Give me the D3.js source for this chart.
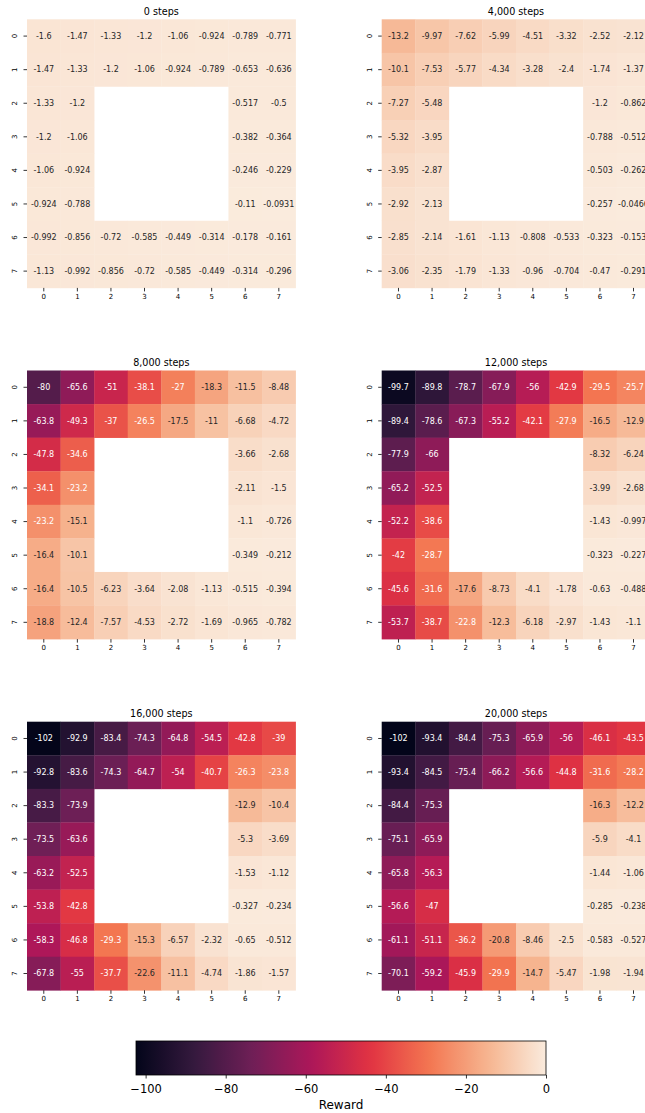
<!DOCTYPE html>
<html><head><meta charset="utf-8">
<script src="https://cdn.jsdelivr.net/npm/d3@7"></script>
<style>
html,body{margin:0;padding:0;background:#fff;}
svg{display:block;font-family:"DejaVu Sans",sans-serif;}
</style></head>
<body><svg id="chart" width="645" height="1113"></svg>
<script>
const N = null;
const titles = ["0 steps", "4,000 steps", "8,000 steps", "12,000 steps", "16,000 steps", "20,000 steps"];
const rowLabels = [0,1,2,3,4,5,6,7];
const colLabels = [0,1,2,3,4,5,6,7];

const steps0 = [
  [-1.6, -1.47, -1.33, -1.2, -1.06, -0.924, -0.789, -0.771],
  [-1.47, -1.33, -1.2, -1.06, -0.924, -0.789, -0.653, -0.636],
  [-1.33, -1.2, N, N, N, N, -0.517, -0.5],
  [-1.2, -1.06, N, N, N, N, -0.382, -0.364],
  [-1.06, -0.924, N, N, N, N, -0.246, -0.229],
  [-0.924, -0.788, N, N, N, N, -0.11, -0.0931],
  [-0.992, -0.856, -0.72, -0.585, -0.449, -0.314, -0.178, -0.161],
  [-1.13, -0.992, -0.856, -0.72, -0.585, -0.449, -0.314, -0.296]
];
const steps4000 = [
  [-13.2, -9.97, -7.62, -5.99, -4.51, -3.32, -2.52, -2.12],
  [-10.1, -7.53, -5.77, -4.34, -3.28, -2.4, -1.74, -1.37],
  [-7.27, -5.48, N, N, N, N, -1.2, -0.862],
  [-5.32, -3.95, N, N, N, N, -0.788, -0.512],
  [-3.95, -2.87, N, N, N, N, -0.503, -0.262],
  [-2.92, -2.13, N, N, N, N, -0.257, -0.0466],
  [-2.85, -2.14, -1.61, -1.13, -0.808, -0.533, -0.323, -0.153],
  [-3.06, -2.35, -1.79, -1.33, -0.96, -0.704, -0.47, -0.291]
];
const steps8000 = [
  [-80, -65.6, -51, -38.1, -27, -18.3, -11.5, -8.48],
  [-63.8, -49.3, -37, -26.5, -17.5, -11, -6.68, -4.72],
  [-47.8, -34.6, N, N, N, N, -3.66, -2.68],
  [-34.1, -23.2, N, N, N, N, -2.11, -1.5],
  [-23.2, -15.1, N, N, N, N, -1.1, -0.726],
  [-16.4, -10.1, N, N, N, N, -0.349, -0.212],
  [-16.4, -10.5, -6.23, -3.64, -2.08, -1.13, -0.515, -0.394],
  [-18.8, -12.4, -7.57, -4.53, -2.72, -1.69, -0.965, -0.782]
];
const steps12000 = [
  [-99.7, -89.8, -78.7, -67.9, -56, -42.9, -29.5, -25.7],
  [-89.4, -78.6, -67.3, -55.2, -42.1, -27.9, -16.5, -12.9],
  [-77.9, -66, N, N, N, N, -8.32, -6.24],
  [-65.2, -52.5, N, N, N, N, -3.99, -2.68],
  [-52.2, -38.6, N, N, N, N, -1.43, -0.997],
  [-42, -28.7, N, N, N, N, -0.323, -0.227],
  [-45.6, -31.6, -17.6, -8.73, -4.1, -1.78, -0.63, -0.488],
  [-53.7, -38.7, -22.8, -12.3, -6.18, -2.97, -1.43, -1.1]
];
const steps16000 = [
  [-102.2, -92.9, -83.4, -74.3, -64.8, -54.5, -42.8, -39],
  [-92.8, -83.6, -74.3, -64.7, -54, -40.7, -26.3, -23.8],
  [-83.3, -73.9, N, N, N, N, -12.9, -10.4],
  [-73.5, -63.6, N, N, N, N, -5.3, -3.69],
  [-63.2, -52.5, N, N, N, N, -1.53, -1.12],
  [-53.8, -42.8, N, N, N, N, -0.327, -0.234],
  [-58.3, -46.8, -29.3, -15.3, -6.57, -2.32, -0.65, -0.512],
  [-67.8, -55, -37.7, -22.6, -11.1, -4.74, -1.86, -1.57]
];
const steps20000 = [
  [-102.4, -93.4, -84.4, -75.3, -65.9, -56, -46.1, -43.5],
  [-93.4, -84.5, -75.4, -66.2, -56.6, -44.8, -31.6, -28.2],
  [-84.4, -75.3, N, N, N, N, -16.3, -12.2],
  [-75.1, -65.9, N, N, N, N, -5.9, -4.1],
  [-65.8, -56.3, N, N, N, N, -1.44, -1.06],
  [-56.6, -47, N, N, N, N, -0.285, -0.238],
  [-61.1, -51.1, -36.2, -20.8, -8.46, -2.5, -0.583, -0.527],
  [-70.1, -59.2, -45.9, -29.9, -14.7, -5.47, -1.98, -1.94]
];
const colorbarTicks = [-100, -80, -60, -40, -20, 0];
const colorbarLabel = "Reward";

const panels = [steps0, steps4000, steps8000, steps12000, steps16000, steps20000];

// rocket colormap (seaborn) control points
const rocketStops = ["#03051a", "#35193e", "#701f57", "#ad1759", "#e13342", "#f37651", "#f6b48f", "#faebdd"];
const rocket = d3.interpolateRgbBasis ? d3.piecewise(d3.interpolateRgb, rocketStops) : null;

const allVals = panels.flat(2).filter(v => v !== null);
const vmin = d3.min(allVals), vmax = 0;
const color = d3.scaleSequential(rocket).domain([vmin, vmax]);

function lum(c) {
  const rgb = d3.rgb(c);
  const f = v => { v /= 255; return v <= 0.03928 ? v / 12.92 : Math.pow((v + 0.055) / 1.055, 2.4); };
  return 0.2126 * f(rgb.r) + 0.7152 * f(rgb.g) + 0.0722 * f(rgb.b);
}
function fmt(v) {
  let s = v.toPrecision(3);
  if (s.indexOf("e") < 0 && s.indexOf(".") >= 0) s = s.replace(/0+$/, "").replace(/\.$/, "");
  return s;
}

const svg = d3.select("#chart");
const lefts = [27, 381.7];
const tops = [19.3, 370.5, 721.7];
const size = 268.6;

panels.forEach((data, i) => {
  const left = lefts[i % 2], top = tops[Math.floor(i / 2)];
  const g = svg.append("g").attr("transform", `translate(${left},${top})`);
  const x = d3.scaleBand().domain(colLabels).range([0, size]);
  const y = d3.scaleBand().domain(rowLabels).range([0, size]);
  const cells = [];
  data.forEach((row, r) => row.forEach((v, c) => { if (v !== null) cells.push({ r, c, v }); }));
  g.selectAll("rect.cell").data(cells).enter().append("rect")
    .attr("x", d => x(d.c)).attr("y", d => y(d.r))
    .attr("width", x.bandwidth() + 0.3).attr("height", y.bandwidth() + 0.3)
    .attr("fill", d => color(d.v));
  g.selectAll("text.ann").data(cells).enter().append("text")
    .attr("x", d => x(d.c) + x.bandwidth() / 2)
    .attr("y", d => y(d.r) + y.bandwidth() / 2)
    .attr("dy", "0.35em")
    .attr("text-anchor", "middle")
    .attr("font-size", "8px")
    .attr("fill", d => lum(color(d.v)) > 0.408 ? "#262626" : "#ffffff")
    .text(d => fmt(d.v));

  // axes
  const xa = g.append("g").attr("transform", `translate(0,${size})`)
    .call(d3.axisBottom(x).tickSize(3.5).tickPadding(2.5));
  xa.select(".domain").remove();
  xa.selectAll("text").attr("font-size", "7px").attr("fill", "#000").attr("font-family", "DejaVu Sans");
  xa.selectAll("line").attr("stroke", "#000").attr("stroke-width", 0.8);

  const ya = g.append("g").call(d3.axisLeft(y).tickSize(3.5).tickPadding(2.5));
  ya.select(".domain").remove();
  ya.selectAll("line").attr("stroke", "#000").attr("stroke-width", 0.8);
  ya.selectAll("text").attr("font-size", "7px").attr("fill", "#000").attr("font-family", "DejaVu Sans")
    .attr("x", 0).attr("dy", "0.35em").attr("text-anchor", "middle")
    .attr("transform", "translate(-12.5,0) rotate(-90)");

  g.append("text").attr("x", size / 2).attr("y", -4.3)
    .attr("text-anchor", "middle").attr("font-size", "9.6px").attr("fill", "#000")
    .text(titles[i]);
});

// colorbar
const cbX = d3.scaleLinear().domain([vmin, vmax]).range([136, 546]);
const cbTop = 1041, cbH = 34;
const defs = svg.append("defs");
const grad = defs.append("linearGradient").attr("id", "cbgrad").attr("x1", "0%").attr("x2", "100%");
d3.range(0, 1.0001, 0.02).forEach(t => {
  grad.append("stop").attr("offset", (t * 100) + "%").attr("stop-color", color(vmin + t * (vmax - vmin)));
});
svg.append("rect").attr("x", cbX(vmin)).attr("y", cbTop)
  .attr("width", cbX(vmax) - cbX(vmin)).attr("height", cbH)
  .attr("fill", "url(#cbgrad)").attr("stroke", "#000").attr("stroke-width", 0.8);
const cba = svg.append("g").attr("transform", `translate(0,${cbTop + cbH})`)
  .call(d3.axisBottom(cbX).tickValues(colorbarTicks).tickSize(3.5).tickPadding(6).tickFormat(d3.format("d")));
cba.select(".domain").remove();
cba.selectAll("line").attr("stroke", "#000").attr("stroke-width", 0.8);
cba.selectAll("text").attr("font-size", "11.5px").attr("fill", "#000").attr("font-family", "DejaVu Sans");
svg.append("text").attr("x", (cbX(vmin) + cbX(vmax)) / 2).attr("y", 1109)
  .attr("text-anchor", "middle").attr("font-size", "12px").attr("fill", "#000")
  .text(colorbarLabel);
</script>
</body></html>
